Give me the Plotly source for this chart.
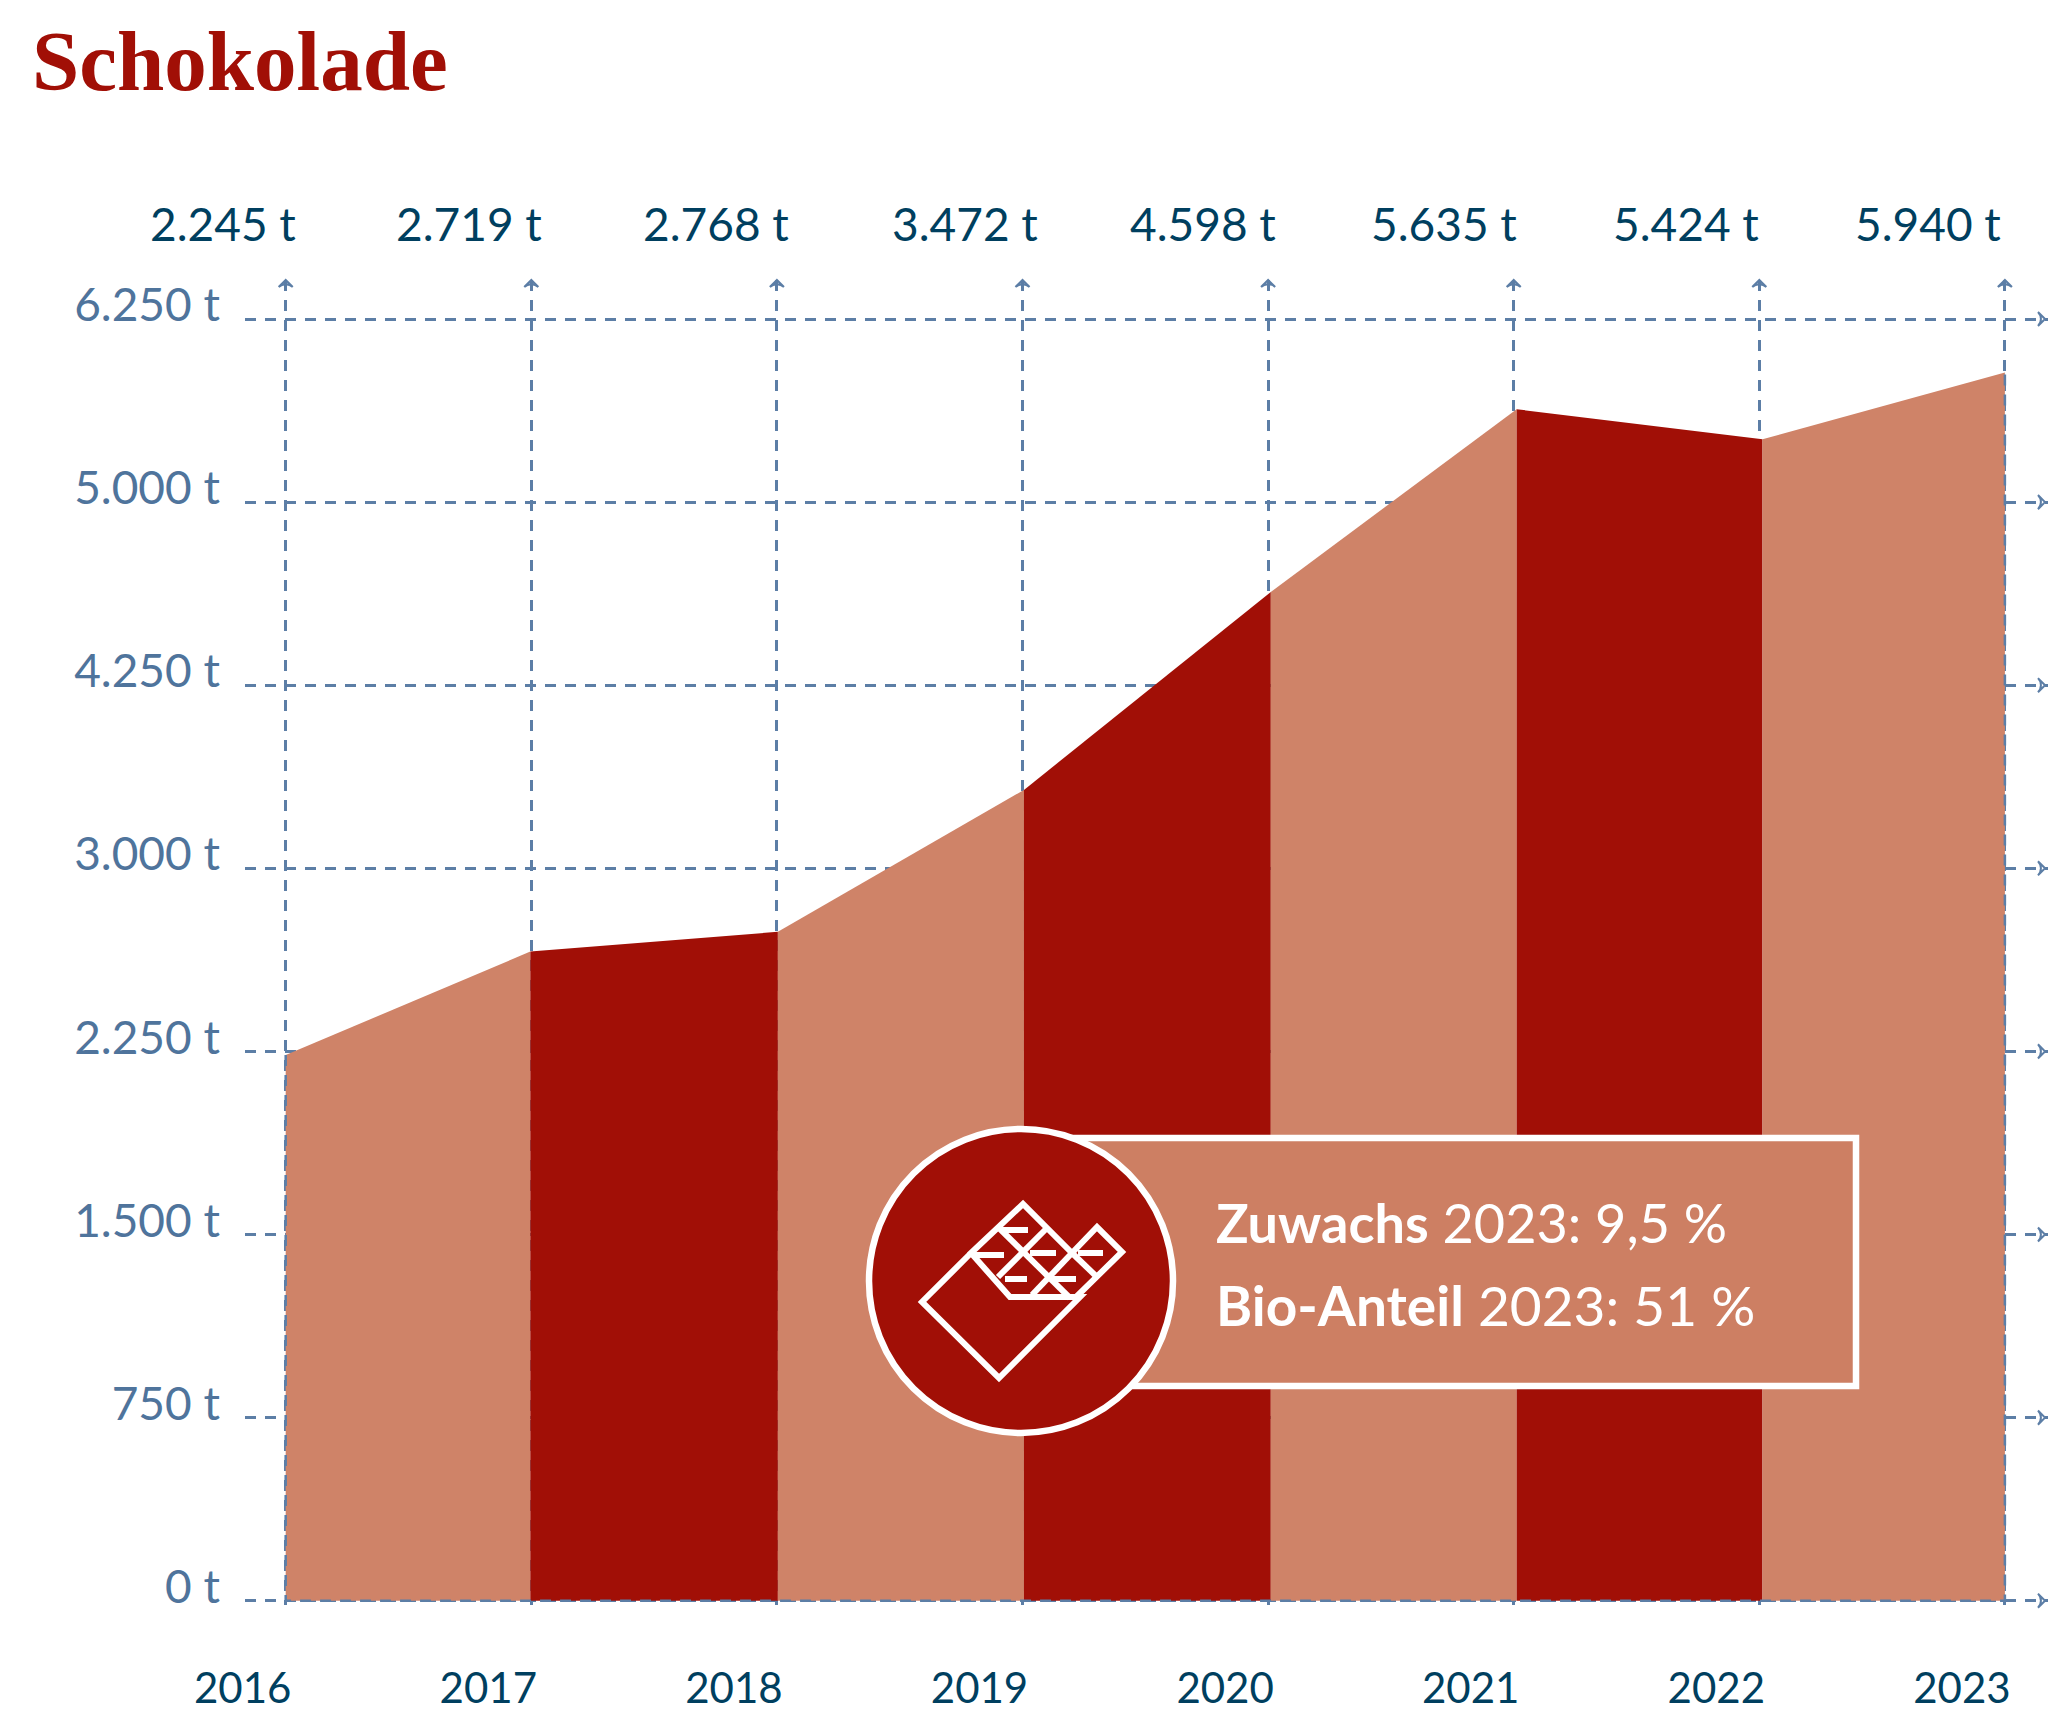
import numpy as np
import plotly.graph_objects as go

years = [2016, 2017, 2018, 2019, 2020, 2021, 2022, 2023]
value_labels = ['2.245 t', '2.719 t', '2.768 t', '3.472 t', '4.598 t', '5.635 t', '5.424 t', '5.940 t']

# the y scale of the original is not linear, the ticks are evenly spaced anyway
tick_tons = [0, 750, 1500, 2250, 3000, 4250, 5000, 6250]
tick_labels = ['0 t', '750 t', '1.500 t', '2.250 t', '3.000 t', '4.250 t', '5.000 t', '6.250 t']

# heights, they differ a bit from the printed labels
drawn_tons = [2235, 2659, 2740, 3535, 4632, 5634, 5429, 5884]
band_edges = [2016, 2016.996, 2018.004, 2019.006, 2020.011, 2021.012, 2022.013, 2023]

DARK = '#a10f06'
LIGHT = '#cf8368'
NAVY = '#003f5f'
AXIS_BLUE = '#4f749c'
GRID = '#5c7ea6'
WHITE = '#ffffff'
FONT = 'Lato'

W, H = 2048, 1723
LEFT, RIGHT, TOP, BOTTOM = 245, 2048, 280, 1605
X0, X_STEP = 285.7, 245.6   # pixel of 2016, pixels per year
Y0, Y_STEP = 1600.7, 183.1  # pixel of 0 t, pixels per tick


def px(x):
    return (x - LEFT) / (RIGHT - LEFT)


def py(y):
    return (BOTTOM - y) / (BOTTOM - TOP)


x_range = [2016 + (LEFT - X0) / X_STEP, 2016 + (RIGHT - X0) / X_STEP]
y_range = [(Y0 - BOTTOM) / Y_STEP, (Y0 - TOP) / Y_STEP]
tick_pos = list(range(len(tick_tons)))
heights = np.interp(drawn_tons, tick_tons, tick_pos)

fig = go.Figure()

# one filled trace per band
for i in range(len(years) - 1):
    fig.add_trace(go.Scatter(
        x=band_edges[i:i + 2],
        y=heights[i:i + 2],
        mode='lines',
        line=dict(width=0, color=DARK if i % 2 else LIGHT),
        fill='tozeroy',
        fillcolor=DARK if i % 2 else LIGHT,
        hoverinfo='skip',
    ))

# dashed frame on top of the area
fig.add_trace(go.Scatter(
    x=[years[0], years[0], years[-1], years[-1]],
    y=[heights[0], 0, 0, heights[-1]],
    mode='lines',
    line=dict(color=GRID, width=2.5, dash='11px,9px'),
    hoverinfo='skip',
))

# arrow heads at the end of the grid lines
fig.add_trace(go.Scatter(
    x=years,
    y=[y_range[1]] * len(years),
    mode='markers',
    cliponaxis=False,
    marker=dict(symbol='arrow-wide-open', size=10, angle=0, color=GRID, line=dict(color=GRID, width=2)),
    hoverinfo='skip',
))
fig.add_trace(go.Scatter(
    x=[x_range[1] - 0.012] * len(tick_pos),
    y=tick_pos,
    mode='markers',
    cliponaxis=False,
    marker=dict(symbol='arrow-wide-open', size=10, angle=90, color=GRID, line=dict(color=GRID, width=2)),
    hoverinfo='skip',
))

# callout box, circle and chocolate icon
shapes = [
    dict(type='rect', xref='paper', yref='paper', x0=px(1021), x1=px(1856), y0=py(1386), y1=py(1138),
         fillcolor='#cd7f63', line=dict(color=WHITE, width=6.5), layer='above'),
    dict(type='circle', xref='paper', yref='paper', x0=px(869), x1=px(1173), y0=py(1433), y1=py(1129),
         fillcolor=DARK, line=dict(color=WHITE, width=6.5), layer='above'),
]

icon_lines = [
    [(971, 1253), (922, 1302), (999, 1378), (1080, 1297), (1010, 1297), (971, 1253), (1023, 1204),
     (1072, 1253), (1097, 1227), (1122, 1252), (1073, 1300)],
    [(999, 1228), (1070, 1298)],
    [(1047, 1228), (998, 1277)],
    [(1072, 1253), (1032, 1295)],
    [(1072, 1253), (1097, 1277)],
    [(1000, 1230), (1028, 1230)],
    [(975, 1255), (1004, 1255)],
    [(1030, 1253), (1056, 1253)],
    [(1078, 1253), (1103, 1253)],
    [(1005, 1279), (1027, 1279)],
    [(1050, 1279), (1076, 1279)],
]
for pts in icon_lines:
    path = 'M ' + ' L '.join(f'{px(a):.5f},{py(b):.5f}' for a, b in pts)
    shapes.append(dict(type='path', xref='paper', yref='paper', path=path,
                       line=dict(color=WHITE, width=6), layer='above'))

annotations = [
    dict(text='<b>Zuwachs</b> 2023: 9,5 %', xref='paper', yref='paper', x=px(1214), y=py(1222),
         xanchor='left', yanchor='middle', showarrow=False, font=dict(family=FONT, size=54, color=WHITE)),
    dict(text='<b>Bio-Anteil</b> 2023: 51 %', xref='paper', yref='paper', x=px(1214), y=py(1305),
         xanchor='left', yanchor='middle', showarrow=False, font=dict(family=FONT, size=55, color=WHITE)),
]

label_shift = [-63, -62, -61, -58, -65, -70, -73, -77]
for yr, label, shift in zip(years, value_labels, label_shift):
    annotations.append(dict(text=label, x=yr, xref='x', y=py(223), yref='paper', xshift=shift,
                            xanchor='center', yanchor='middle', showarrow=False,
                            font=dict(family=FONT, size=46, color=NAVY)))

fig.update_layout(
    width=W,
    height=H,
    margin=dict(l=LEFT, r=W - RIGHT, t=TOP, b=H - BOTTOM, pad=0),
    paper_bgcolor=WHITE,
    plot_bgcolor=WHITE,
    showlegend=False,
    hovermode=False,
    title=dict(text='<b>Schokolade</b>', x=32 / W, xanchor='left', xref='container',
               y=1 - 60 / H, yanchor='middle', yref='container',
               font=dict(family='Liberation Serif', size=85, color=DARK)),
    shapes=shapes,
    annotations=annotations,
)
fig.update_xaxes(
    range=x_range,
    tickvals=years,
    ticktext=[str(y) for y in years],
    showgrid=True,
    griddash='11px,9px',
    gridcolor=GRID,
    gridwidth=2.5,
    zeroline=False,
    showline=False,
    ticks='',
    ticklabelstandoff=55,
    ticklabelshift=-43,
    tickfont=dict(family=FONT, size=42, color=NAVY),
)
fig.update_yaxes(
    range=y_range,
    tickvals=tick_pos,
    ticktext=tick_labels,
    showgrid=True,
    griddash='11px,9px',
    gridcolor=GRID,
    gridwidth=2.5,
    zeroline=False,
    showline=False,
    ticks='',
    ticklabelstandoff=24,
    ticklabelshift=-14,
    tickfont=dict(family=FONT, size=46, color=AXIS_BLUE),
)

fig.write_html('out.html', config={'displayModeBar': False},
               post_script="document.body.style.margin='0';")
